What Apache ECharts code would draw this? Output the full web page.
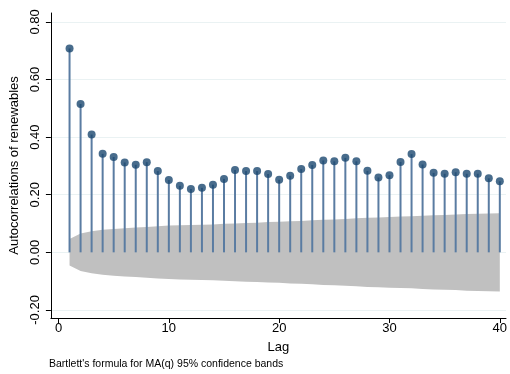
<!DOCTYPE html>
<html>
<head>
<meta charset="utf-8">
<script src="https://cdn.jsdelivr.net/npm/echarts@6/dist/echarts.min.js"></script>
<style>
  html, body { margin: 0; padding: 0; background: #fff; }
  #chart { width: 510px; height: 374px; }
</style>
</head>
<body>
<div id="chart"></div>
<script>
// Lags 1..40
const lags = [1,2,3,4,5,6,7,8,9,10,11,12,13,14,15,16,17,18,19,20,
              21,22,23,24,25,26,27,28,29,30,31,32,33,34,35,36,37,38,39,40];

// Autocorrelation at each lag
const acf = [0.708,0.515,0.409,0.342,0.331,0.312,0.304,0.313,0.282,0.251,
             0.231,0.220,0.224,0.235,0.255,0.286,0.282,0.282,0.272,0.252,
             0.266,0.289,0.303,0.319,0.316,0.328,0.316,0.283,0.260,0.268,
             0.314,0.341,0.305,0.276,0.273,0.278,0.273,0.273,0.257,0.247];

// 95% confidence band (Bartlett), upper and lower edges
const bandUpper = [0.046,0.065,0.073,0.078,0.081,0.084,0.086,0.088,0.091,0.093,
                   0.094,0.095,0.096,0.097,0.099,0.100,0.102,0.103,0.105,0.106,
                   0.108,0.109,0.111,0.113,0.114,0.116,0.118,0.120,0.121,0.123,
                   0.124,0.125,0.127,0.129,0.130,0.131,0.133,0.134,0.135,0.136];
const bandLower = [-0.046,-0.065,-0.073,-0.078,-0.081,-0.084,-0.086,-0.088,-0.091,-0.093,
                   -0.094,-0.095,-0.096,-0.097,-0.099,-0.100,-0.102,-0.103,-0.105,-0.106,
                   -0.108,-0.109,-0.111,-0.113,-0.114,-0.116,-0.118,-0.120,-0.121,-0.123,
                   -0.124,-0.125,-0.127,-0.129,-0.130,-0.131,-0.133,-0.134,-0.135,-0.136];

// Axis ticks
const xTicks = [0, 10, 20, 30, 40];
const yTicks = [-0.2, 0, 0.2, 0.4, 0.6, 0.8];

const FONT = 'Liberation Sans, Arial, sans-serif';
const chart = echarts.init(document.getElementById('chart'), null, { renderer: 'canvas' });

// Band outline: along the upper edge, then back along the lower edge
const bandOutline = lags.map((l, i) => [l, bandUpper[i]])
  .concat(lags.map((l, i) => [l, bandLower[i]]).reverse());

chart.setOption({
  animation: false,
  backgroundColor: '#ffffff',
  grid: { left: 48, right: 0, top: 13, bottom: 56, containLabel: false },
  xAxis: {
    type: 'value',
    min: -0.69,
    max: 40.56,
    name: 'Lag',
    nameLocation: 'middle',
    nameGap: 23,
    nameTextStyle: { fontFamily: FONT, fontSize: 13, color: '#000' },
    axisLine: { show: true, onZero: false, lineStyle: { color: '#000', width: 1 } },
    axisTick: { show: true, length: 5, customValues: xTicks, lineStyle: { color: '#000' } },
    axisLabel: { customValues: xTicks, fontFamily: FONT, fontSize: 13, color: '#000', margin: 4 },
    splitLine: { show: false }
  },
  yAxis: {
    type: 'value',
    min: -0.228,
    max: 0.831,
    name: 'Autocorrelations of renewables',
    nameLocation: 'middle',
    nameGap: 27,
    nameTextStyle: { fontFamily: FONT, fontSize: 13, color: '#000' },
    axisLine: { show: true, onZero: false, lineStyle: { color: '#000', width: 1 } },
    axisTick: { show: true, length: 5, customValues: yTicks, lineStyle: { color: '#000' } },
    axisLabel: {
      customValues: yTicks,
      rotate: 90,
      fontFamily: FONT, fontSize: 13, color: '#000', margin: 9,
      formatter: v => v.toFixed(2)
    },
    splitLine: { show: true, lineStyle: { color: '#eaf2f3', width: 1 } }
  },
  graphic: [{
    type: 'text',
    left: 49,
    top: 359,
    style: {
      text: "Bartlett's formula for MA(q) 95% confidence bands",
      fontFamily: FONT, fontSize: 10.5, fill: '#000'
    }
  }],
  series: [
    {
      // filled confidence band, one polygon through the axis scales
      type: 'custom',
      data: [0],
      silent: true,
      z: 1,
      renderItem: (params, api) => ({
        type: 'polygon',
        shape: { points: bandOutline.map(p => api.coord(p)) },
        style: { fill: '#c0c0c0', stroke: null }
      })
    },
    {
      // stems
      type: 'bar',
      data: lags.map((l, i) => [l, acf[i]]),
      barWidth: 2,
      itemStyle: { color: '#5a7ca2' },
      silent: true,
      z: 3
    },
    {
      // markers
      type: 'scatter',
      data: lags.map((l, i) => [l, acf[i]]),
      symbol: 'circle',
      symbolSize: 8,
      itemStyle: { color: '#1a476f' },
      silent: true,
      z: 4
    }
  ]
});
</script>
</body>
</html>
